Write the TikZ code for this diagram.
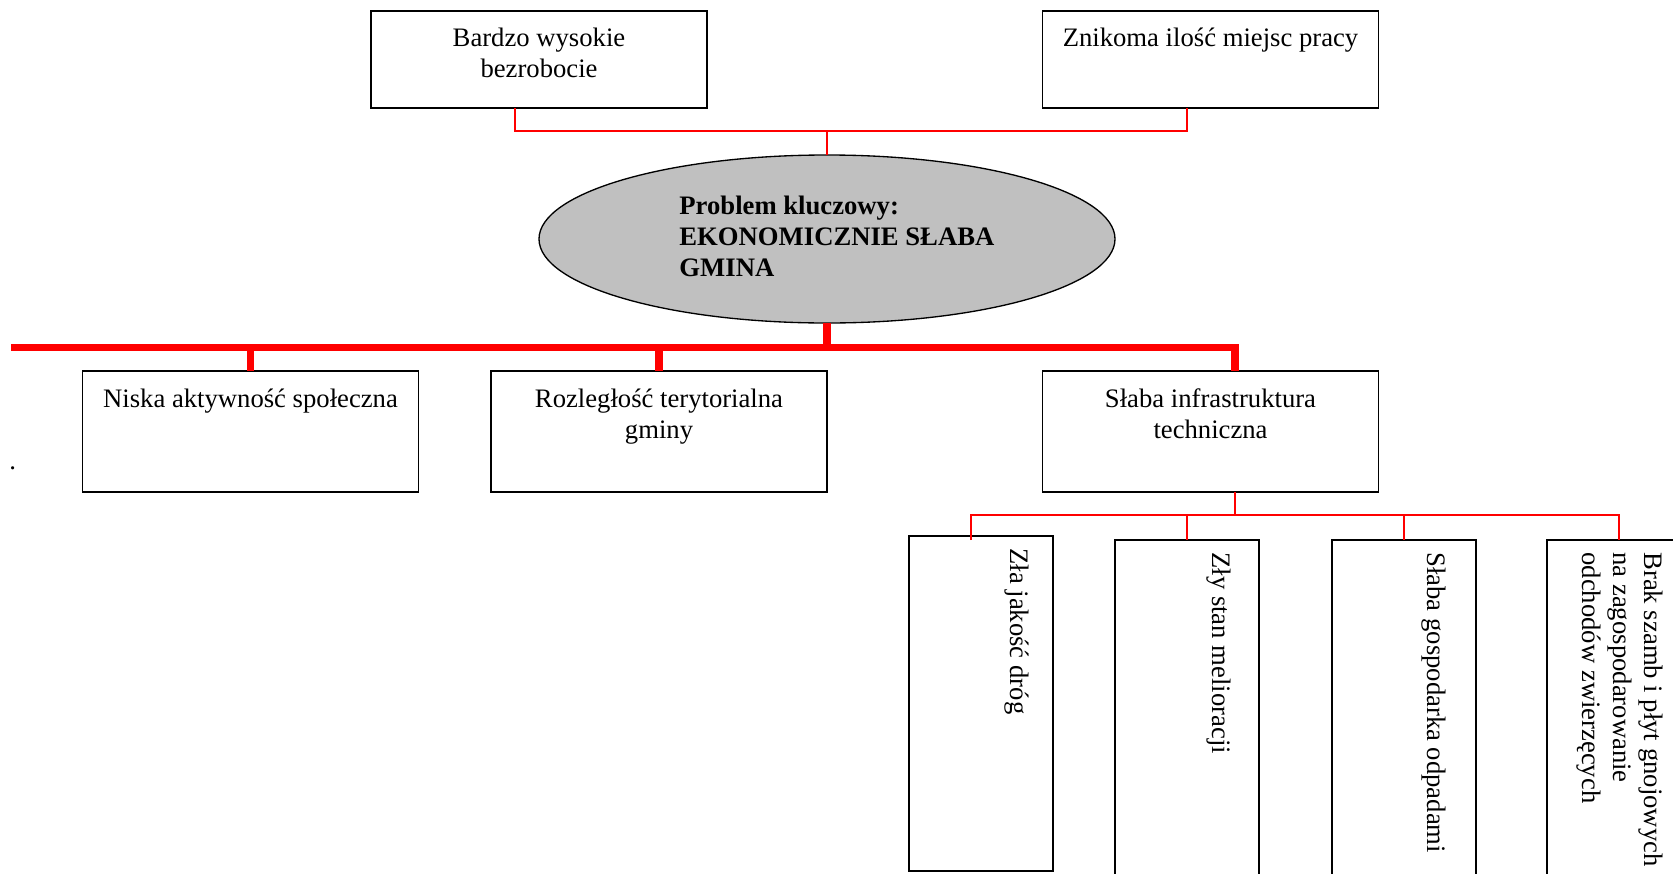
\documentclass[tikz,border=0pt]{standalone}
\usepackage{fontspec}
\setmainfont{Liberation Serif}
\usepackage{tikz}
\usetikzlibrary{shapes.geometric,positioning,calc}
\usepackage{xcolor}
\definecolor{keygray}{RGB}{192,192,192}
\newcommand{\pxl}{0.45pt}

\begin{document}
\begin{tikzpicture}[x=0.45pt,y=-0.45pt,
    font=\fontsize{12}{13.95}\selectfont,
    box/.style={draw,line width=0.6pt,inner sep=0pt,outer sep=0pt},
    wbox/.style={box,minimum width=336*\pxl},
    tbox/.style={box,minimum width=144*\pxl,minimum height=335*\pxl},
    txt/.style={inner sep=0pt,align=center,anchor=base},
    vtxt/.style={inner sep=0pt,align=left,anchor=base west,rotate=-90},
    thinred/.style={red,line width=0.75pt},
    thickred/.style={red,line width=3.2pt}]
  \useasboundingbox (0,0) rectangle (1673,873);
  % effects
  \node[wbox,minimum height=97*\pxl] (b1) at (539,59.5) {};
  \node[txt] (b1t) at (539,77) {Bardzo wysokie\\bezrobocie};
  \node[wbox,minimum height=97*\pxl] (b2) at (1210.5,59.5) {};
  \node[txt] (b2t) at (1210.5,46) {Znikoma ilość miejsc pracy};
  % key problem
  \node[ellipse,draw,line width=0.6pt,fill=keygray,inner sep=0pt,outer sep=0pt,
        minimum width=576*\pxl,minimum height=168*\pxl] (key) at (827,239) {};
  \node[inner sep=0pt,align=left,anchor=base west,font=\fontsize{12}{13.95}\selectfont\bfseries]
        (keyt) at (679,276) {Problem kluczowy:\\EKONOMICZNIE SŁABA\\GMINA};
  % causes
  \node[wbox,minimum height=121*\pxl] (n1) at (250.5,431.5) {};
  \node[txt] (n1t) at (250.5,407) {Niska aktywność społeczna};
  \node[wbox,minimum height=121*\pxl] (n2) at (659,431.5) {};
  \node[txt] (n2t) at (659,438) {Rozległość terytorialna\\gminy};
  \node[wbox,minimum height=121*\pxl] (n3) at (1210.5,431.5) {};
  \node[txt] (n3t) at (1210.5,438) {Słaba infrastruktura\\techniczna};
  \node[inner sep=0pt,anchor=base west] (dot) at (9,469) {.};
  % sub-causes
  \node[tbox] (l1) at (981,703.5) {};
  \node[vtxt] (l1t) at (1010,548) {Zła jakość dróg};
  \node[tbox] (l2) at (1187,707.5) {};
  \node[vtxt] (l2t) at (1212,552) {Zły stan melioracji};
  \node[tbox] (l3) at (1404,707.5) {};
  \node[vtxt] (l3t) at (1427,552) {Słaba gospodarka odpadami};
  \node[tbox] (l4) at (1619,707.5) {};
  \node[vtxt] (l4t) at (1582,552) {Brak szamb i płyt gnojowych\\na zagospodarowanie\\odchodów zwierzęcych};
  % connectors
  \coordinate (jtop) at (827,131);
  \draw[thinred] ([xshift=-24*\pxl]b1.south) |- (jtop) -| ([xshift=-23.5*\pxl]b2.south);
  \draw[thinred] (jtop) -- (key.north);
  \coordinate (bus) at (11,347.5);
  \draw[thickred] (key.south) -- (key.south |- bus);
  \draw[thickred] (bus) -| ([xshift=24.5*\pxl]n3.north);
  \foreach \n in {n1,n2}
    \draw[thickred] (\n.north |- bus) -- (\n.north);
  \coordinate (jlow) at (1235,515);
  \draw[thinred] ([xshift=24.5*\pxl]n3.south) -- (jlow);
  \draw[thinred] ([xshift=-10*\pxl,yshift=-4*\pxl]l1.north) |- (jlow) -| (l4.north);
  \foreach \n in {l2,l3}
    \draw[thinred] (\n.north |- jlow) -- (\n.north);
\end{tikzpicture}
\end{document}
